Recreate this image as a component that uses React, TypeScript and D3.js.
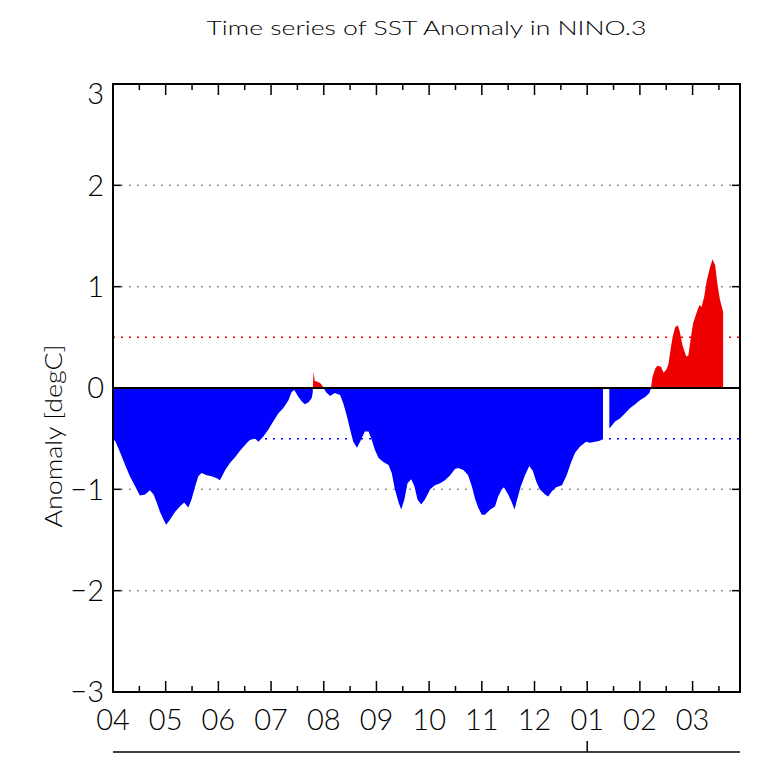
import React from "react";
import * as d3 from "d3";

// time in months since the start of April, anomaly in degC (null = missing)
const months: number[] = [
  0.0, 0.04, 0.13, 0.23, 0.32, 0.42, 0.51, 0.61, 0.7, 0.77, 0.83, 0.89, 0.96, 1.01, 1.08, 1.18, 1.27, 1.35, 1.43,
  1.49, 1.56, 1.62, 1.68, 1.78, 1.87, 1.97, 2.03, 2.13, 2.22, 2.32, 2.41, 2.51, 2.6, 2.7, 2.76, 2.85, 2.95, 3.04,
  3.14, 3.23, 3.33, 3.39, 3.44, 3.52, 3.58, 3.64, 3.71, 3.77, 3.79, 3.805, 3.83, 3.89, 3.93, 3.99, 4.04, 4.12, 4.21,
  4.31, 4.37, 4.44, 4.5, 4.56, 4.63, 4.69, 4.78, 4.85, 4.91, 4.97, 5.04, 5.13, 5.23, 5.29, 5.35, 5.42, 5.47, 5.53,
  5.59, 5.66, 5.72, 5.78, 5.85, 5.92, 6.02, 6.11, 6.21, 6.3, 6.4, 6.49, 6.55, 6.65, 6.74, 6.81, 6.87, 6.93, 7.0,
  7.06, 7.16, 7.25, 7.31, 7.38, 7.42, 7.5, 7.57, 7.62, 7.67, 7.74, 7.82, 7.9, 7.97, 8.03, 8.1, 8.2, 8.26, 8.33,
  8.41, 8.52, 8.61, 8.69, 8.77, 8.86, 8.98, 9.05, 9.15, 9.24, 9.3, 9.36, 9.42, 9.53, 9.62, 9.72, 9.81, 9.91, 10.0,
  10.1, 10.18, 10.21, 10.24, 10.29, 10.33, 10.4, 10.45, 10.5, 10.54, 10.58, 10.62, 10.67, 10.72, 10.76, 10.81,
  10.88, 10.92, 10.96, 11.01, 11.08, 11.13, 11.17, 11.22, 11.27, 11.33, 11.38, 11.43, 11.47, 11.52, 11.58,
];
const anomaly: (number | null)[] = [
  -0.51, -0.52, -0.63, -0.76, -0.87, -0.97, -1.06, -1.05, -1.01, -1.05, -1.13, -1.22, -1.3, -1.35, -1.3, -1.22,
  -1.17, -1.13, -1.18, -1.1, -0.97, -0.87, -0.84, -0.86, -0.87, -0.89, -0.91, -0.81, -0.74, -0.68, -0.62, -0.56,
  -0.51, -0.5, -0.53, -0.48, -0.41, -0.33, -0.25, -0.2, -0.12, -0.04, -0.02, -0.09, -0.13, -0.16, -0.14, -0.1,
  -0.05, 0.16, 0.07, 0.06, 0.05, 0.01, -0.04, -0.08, -0.05, -0.07, -0.15, -0.28, -0.41, -0.53, -0.59, -0.53,
  -0.43, -0.43, -0.51, -0.61, -0.69, -0.73, -0.76, -0.84, -1.0, -1.13, -1.2, -1.1, -0.94, -0.9, -0.97, -1.1, -1.15,
  -1.1, -1.0, -0.96, -0.94, -0.91, -0.86, -0.8, -0.79, -0.81, -0.86, -0.97, -1.09, -1.18, -1.25, -1.25, -1.2,
  -1.17, -1.07, -1.0, -0.98, -1.05, -1.13, -1.2, -1.1, -0.97, -0.86, -0.77, -0.82, -0.92, -1.0, -1.05, -1.07,
  -1.02, -0.98, -0.96, -0.86, -0.74, -0.64, -0.58, -0.53, -0.54, -0.53, -0.52, -0.5, null, -0.4, -0.33, -0.3,
  -0.25, -0.2, -0.16, -0.12, -0.09, -0.05, 0.0, 0.11, 0.19, 0.22, 0.21, 0.15, 0.18, 0.23, 0.37, 0.5, 0.6, 0.62,
  0.55, 0.42, 0.31, 0.32, 0.47, 0.64, 0.75, 0.82, 0.8, 0.9, 1.06, 1.19, 1.27, 1.21, 1.03, 0.87, 0.75,
];
const monthLabels: string[] = ["04", "05", "06", "07", "08", "09", "10", "11", "12", "01", "02", "03"];
const yTicks: number[] = [-3, -2, -1, 0, 1, 2, 3];
const greyGrid: number[] = [-2, -1, 1, 2];
const yearBoundaryMonth = 9;

const W = 769;
const H = 764;
const FONT = "Lato, 'DejaVu Sans', sans-serif";

export default function App() {
  const x = d3.scaleLinear().domain([0, 11.9]).range([113, 740]);
  const y = d3.scaleLinear().domain([-3, 3]).range([692, 84]);
  const [x0, x1] = x.range();
  const [yb, yt] = y.range();

  const data = months.map((m, i) => ({ m, v: anomaly[i] }));
  const area = d3
    .area<{ m: number; v: number | null }>()
    .defined((d) => d.v != null)
    .x((d) => x(d.m))
    .y0(y(0))
    .y1((d) => y(d.v as number));
  const path = area(data) || "";

  const majors = d3.range(0, 12);
  const minors = d3.range(0, 12).map((i) => i + 0.5);

  return (
    <svg width={W} height={H} style={{ position: "absolute", left: 0, top: 0, background: "#fff" }}>
      <defs>
        <clipPath id="above">
          <rect x={x0} y={yt} width={x1 - x0} height={y(0) - yt} />
        </clipPath>
        <clipPath id="below">
          <rect x={x0} y={y(0)} width={x1 - x0} height={yb - y(0)} />
        </clipPath>
      </defs>
      <text x={(x0 + x1) / 2} y={35} textAnchor="middle" fontFamily={FONT} fontWeight={300} fontSize={19} textLength={440} lengthAdjust="spacingAndGlyphs">
        Time series of SST Anomaly in NINO.3
      </text>

      {greyGrid.map((v) => (
        <line key={"g" + v} x1={x0} x2={x1} y1={y(v)} y2={y(v)} stroke="#999" strokeWidth={1.5} strokeDasharray="2,6" />
      ))}
      <line x1={x0} x2={x1} y1={y(0.5)} y2={y(0.5)} stroke="#e00" strokeWidth={1.5} strokeDasharray="2,6" />
      <line x1={x0} x2={x1} y1={y(-0.5)} y2={y(-0.5)} stroke="#00f" strokeWidth={1.5} strokeDasharray="2,6" />

      <path d={path} fill="#ee0000" clipPath="url(#above)" />
      <path d={path} fill="#0000ff" clipPath="url(#below)" />

      <line x1={x0} x2={x1} y1={y(0)} y2={y(0)} stroke="#000" strokeWidth={2} />

      {majors.map((m) => (
        <g key={"M" + m}>
          <line x1={x(m)} x2={x(m)} y1={yb} y2={yb - 11} stroke="#000" strokeWidth={1.5} />
          <line x1={x(m)} x2={x(m)} y1={yt} y2={yt + 11} stroke="#000" strokeWidth={1.5} />
          <text x={x(m)} y={730} textAnchor="middle" fontFamily={FONT} fontWeight={300} fontSize={29}>
            {monthLabels[m]}
          </text>
        </g>
      ))}
      {minors.map((m) => (
        <g key={"m" + m}>
          <line x1={x(m)} x2={x(m)} y1={yb} y2={yb - 6} stroke="#000" strokeWidth={1.5} />
          <line x1={x(m)} x2={x(m)} y1={yt} y2={yt + 6} stroke="#000" strokeWidth={1.5} />
        </g>
      ))}
      {yTicks.map((v) => (
        <g key={"y" + v}>
          <line x1={x0} x2={x0 + 8} y1={y(v)} y2={y(v)} stroke="#000" strokeWidth={1.5} />
          <line x1={x1} x2={x1 - 8} y1={y(v)} y2={y(v)} stroke="#000" strokeWidth={1.5} />
          <text x={104} y={y(v) + (v === 3 ? 10 : 0)} dy="0.36em" textAnchor="end" fontFamily={FONT} fontWeight={300} fontSize={29}>
            {v < 0 ? "\u2212" + Math.abs(v) : String(v)}
          </text>
        </g>
      ))}

      <rect x={x0} y={yt} width={x1 - x0} height={yb - yt} fill="none" stroke="#000" strokeWidth={2} />

      <text
        transform={`translate(62,436) rotate(-90)`}
        textAnchor="middle"
        fontFamily={FONT}
        fontWeight={300}
        fontSize={24}
        textLength={183}
        lengthAdjust="spacingAndGlyphs"
      >
        Anomaly [degC]
      </text>

      <line x1={x0} x2={x1} y1={752} y2={752} stroke="#000" strokeWidth={1.5} />
      <line x1={x(yearBoundaryMonth)} x2={x(yearBoundaryMonth)} y1={752} y2={741} stroke="#000" strokeWidth={1.5} />
    </svg>
  );
}
